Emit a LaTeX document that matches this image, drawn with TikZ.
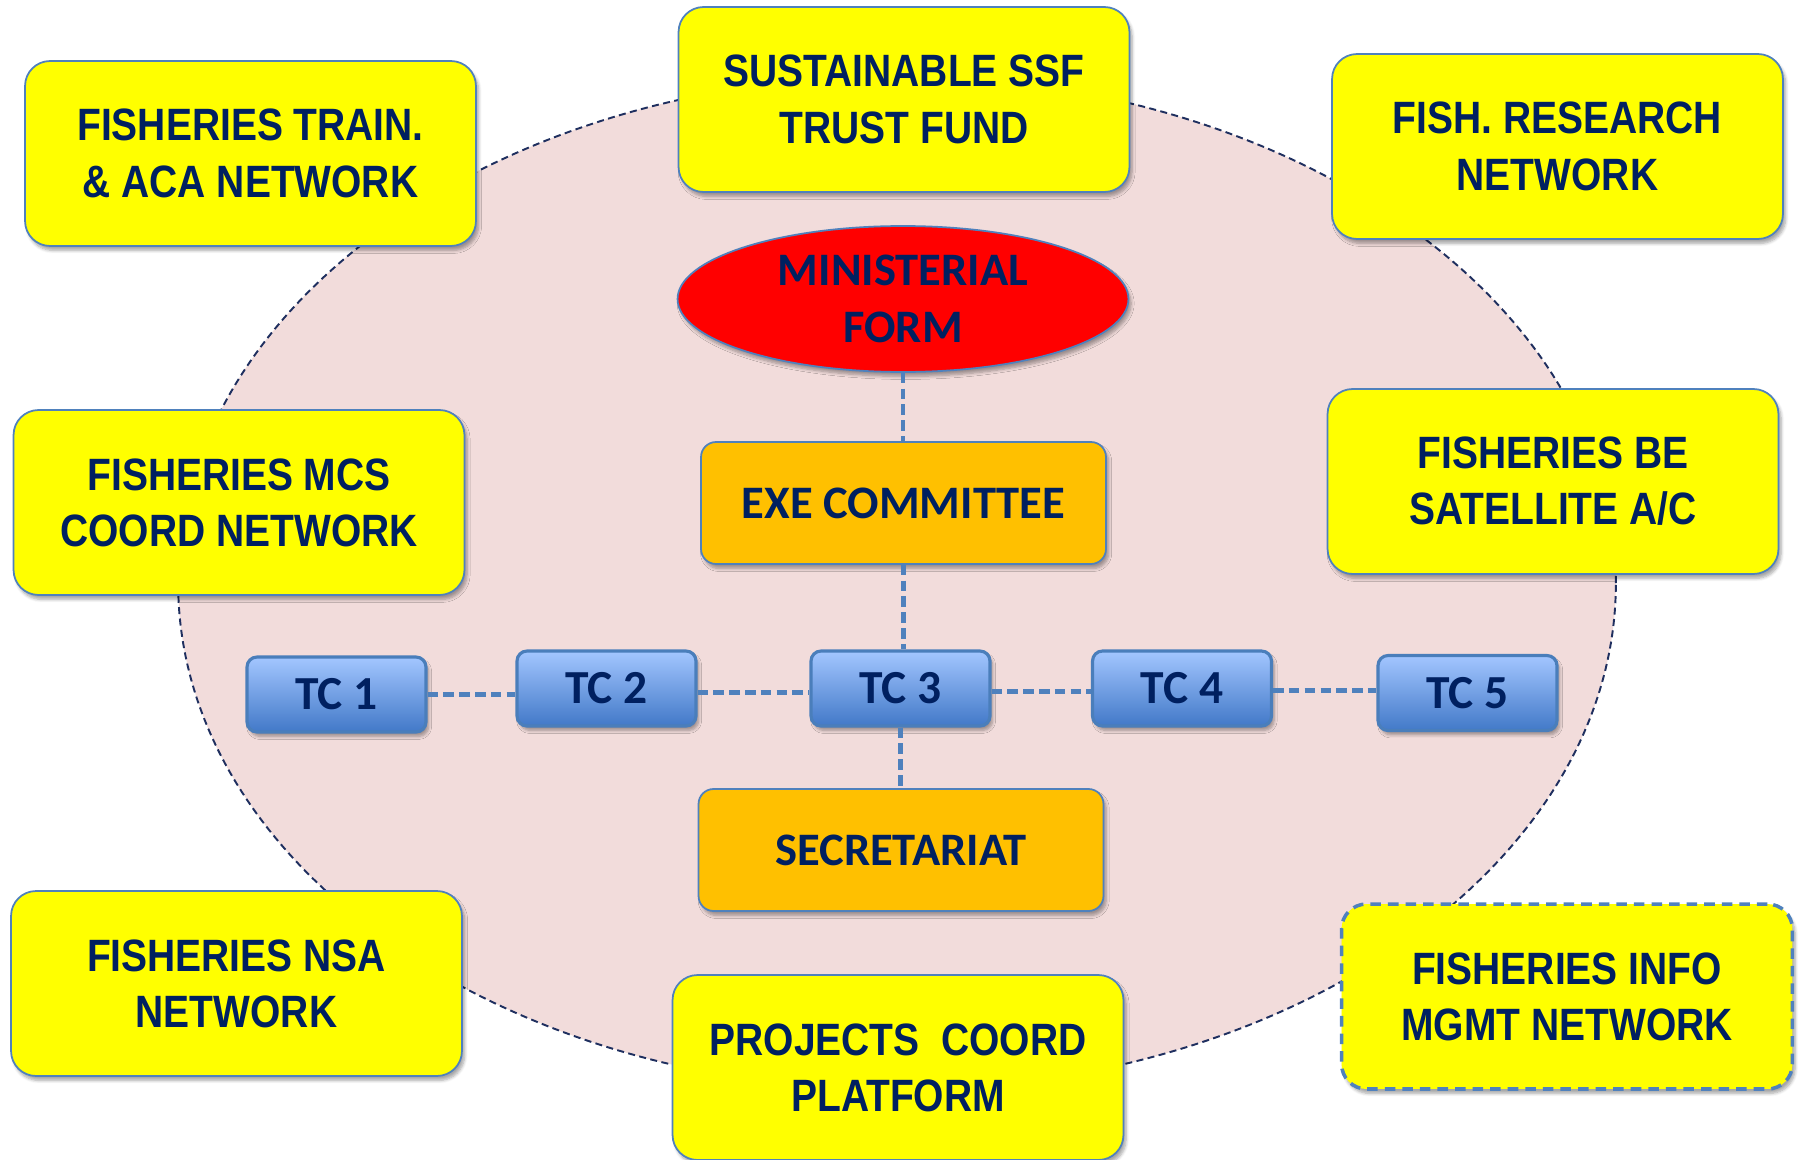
\documentclass[tikz,border=0pt]{standalone}
\usepackage{fontspec}
\usetikzlibrary{shadows.blur,shapes.geometric}
\newfontfamily\yfont[FakeStretch=0.86]{Liberation Sans}
\newfontfamily\cfont{Carlito}
\definecolor{navy}{HTML}{002060}
\definecolor{boxblue}{HTML}{4F81BD}
\definecolor{pinkfill}{HTML}{F2DCDB}
\definecolor{ellline}{HTML}{1F2F5F}
\definecolor{yel}{HTML}{FFFF00}
\definecolor{orng}{HTML}{FFC000}
\definecolor{redf}{HTML}{FF0000}
\definecolor{tctop}{HTML}{A3C6FF}
\definecolor{tcbot}{HTML}{4279C8}
\definecolor{tcborder}{HTML}{4A7EBB}
\tikzset{
  softshadow/.style={blur shadow={shadow xshift=1.5pt,shadow yshift=-2.5pt,shadow opacity=35,shadow blur steps=6}},
  ybox/.style={rectangle,rounded corners=0.5cm,fill=yel,draw=boxblue,line width=1pt,
    minimum width=9.02cm,minimum height=3.7cm,align=center,text=navy,inner sep=0pt,
    font={\yfont\bfseries\fontsize{25.8}{32}\selectfont},softshadow},
  obox/.style={rectangle,rounded corners=0.3cm,fill=orng,draw=boxblue,line width=1pt,
    minimum width=8.1cm,minimum height=2.44cm,align=center,text=navy,inner sep=0pt,
    font={\cfont\bfseries\fontsize{26.5}{32}\selectfont},softshadow},
  tcbox/.style={rectangle,rounded corners=0.2cm,draw=tcborder,line width=1.8pt,
    top color=tctop,bottom color=tcbot,minimum width=3.58cm,minimum height=1.5cm,
    inner sep=0pt,text=navy,font={\cfont\bfseries\fontsize{27}{32}\selectfont},softshadow},
  conn/.style={draw=boxblue,line width=2.3pt,dash pattern=on 6pt off 3pt},
}
\begin{document}
\begin{tikzpicture}[x=0.02cm,y=-0.02cm]
\useasboundingbox (0,0) rectangle (1801,1159);
% background ellipse
\draw[fill=pinkfill,draw=ellline,line width=1.1pt,dash pattern=on 4pt off 2.5pt]
  (897,583) ellipse [x radius=14.38cm,y radius=10.14cm];
% outer network boxes
\node[ybox] (train) at (250.5,153.5) {FISHERIES TRAIN.\\\& ACA NETWORK};
\node[ybox] (fund) at (904,99.5) {SUSTAINABLE SSF\\TRUST FUND};
\node[ybox] (research) at (1557.5,146.5) {FISH. RESEARCH\\NETWORK};
\node[ybox] (mcs) at (239,502.5) {FISHERIES MCS\\COORD NETWORK};
\node[ybox] (sat) at (1553,481.5) {FISHERIES BE\\SATELLITE A/C};
\node[ybox] (nsa) at (236.5,983.5) {FISHERIES NSA\\NETWORK};
\node[ybox] (proj) at (898,1067.5) {PROJECTS\ \ COORD\\PLATFORM};
\node[ybox,line width=2pt,dash pattern=on 6pt off 4pt] (info) at (1567,996.5) {FISHERIES INFO\\MGMT NETWORK};
% central structure
\node[ellipse,fill=redf,draw=boxblue,line width=1pt,minimum width=9.02cm,minimum height=2.92cm,
  inner sep=0pt,align=center,text=navy,font={\cfont\bfseries\fontsize{26.5}{32.5}\selectfont},softshadow]
  (min) at (903,299) {MINISTERIAL\\FORM};
\node[obox] (exe) at (903.5,503) {EXE COMMITTEE};
\node[obox] (sec) at (901,850) {SECRETARIAT};
\node[tcbox] (tc1) at (336.5,694.5) {TC 1};
\node[tcbox] (tc2) at (606.5,688.5) {TC 2};
\node[tcbox] (tc3) at (900.5,688.5) {TC 3};
\node[tcbox] (tc4) at (1182,688.5) {TC 4};
\node[tcbox] (tc5) at (1467.5,693) {TC 5};
% connectors
\draw[conn] (min.south) -- (min.south |- exe.north);
\draw[conn] (exe.south) -- (exe.south |- tc3.north);
\draw[conn] (tc3.south) -- (tc3.south |- sec.north);
\draw[conn] (tc1.east) -- (tc1.east -| tc2.west);
\draw[conn] ([yshift=-0.08cm]tc2.east) -- ([yshift=-0.08cm]tc3.west);
\draw[conn] ([yshift=-0.06cm]tc3.east) -- ([yshift=-0.06cm]tc4.west);
\draw[conn] ([yshift=-0.04cm]tc4.east) -- ([yshift=-0.04cm]tc4.east -| tc5.west);
\end{tikzpicture}
\end{document}
